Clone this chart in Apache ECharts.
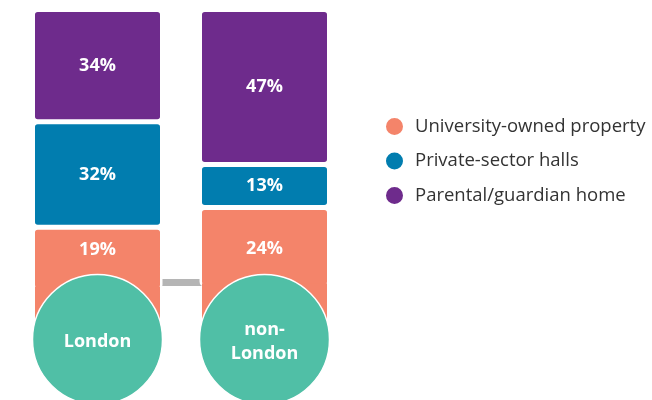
<!DOCTYPE html>
<html>
<head>
<meta charset="utf-8">
<script src="https://cdn.jsdelivr.net/npm/echarts@6/dist/echarts.min.js"></script>
<style>
  html, body { margin: 0; padding: 0; background: #fff; }
  #chart { width: 652px; height: 400px; }
</style>
</head>
<body>
<div id="chart"></div>
<script>
// Term-time accommodation by student location (% of students)
const categories = ['London', 'non-London'];
const circleLabels = ['London', 'non-\nLondon'];
const universityOwned = [19, 24];
const privateHalls = [32, 13];
const parentalHome = [34, 47];

const COLORS = {
  university: '#f4846a',
  privateHalls: '#017daf',
  parental: '#6e2b8c',
  circle: '#50bfa6',
  connector: '#b5b5b5'
};

// layout constants for the decorative parts
const CIRCLE_LEVEL = 100;      // axis level of the location badges
const CONNECTOR_LEVEL = 82.7;  // axis level of the grey link between columns
const orangeLabelDistance = [14, 32];

const FONT = '"Open Sans", "Noto Sans", sans-serif';
const BAR_WIDTH = 130;
const EDGE = 2.5;              // white edge drawn inside each segment -> 5px gaps

const segLabel = {
  show: true,
  position: 'inside',
  color: '#fff',
  fontFamily: FONT,
  fontWeight: 'bold',
  fontSize: 18,
  formatter: p => p.value + '%'
};

const segStyle = color => ({
  color: color,
  borderColor: '#fff',
  borderWidth: EDGE,
  borderRadius: 4
});

const universityData = universityOwned.map((v, i) => ({
  value: v,
  label: { position: 'insideTop', distance: orangeLabelDistance[i] }
}));

const totals = categories.map((c, i) => parentalHome[i] + privateHalls[i] + universityOwned[i]);

const chart = echarts.init(document.getElementById('chart'), null, { renderer: 'canvas' });

chart.setOption({
  animation: false,
  backgroundColor: '#fff',
  grid: { left: 14, width: 334, top: 9.5, height: 363 },
  xAxis: {
    type: 'category',
    data: categories,
    show: false
  },
  yAxis: {
    type: 'value',
    inverse: true,
    min: 0,
    max: 110,
    show: false
  },
  legend: {
    orient: 'vertical',
    left: 379,
    top: 111,
    icon: 'circle',
    itemWidth: 19,
    itemHeight: 19,
    itemGap: 13.5,
    data: ['University-owned property', 'Private-sector halls', 'Parental/guardian home'],
    textStyle: {
      fontFamily: FONT,
      fontSize: 18.5,
      color: '#333',
      padding: [0, 0, 0, 6]
    }
  },
  series: [
    {
      type: 'line',
      z: 1,
      data: categories.map(() => CONNECTOR_LEVEL),
      symbol: 'none',
      lineStyle: { color: COLORS.connector, width: 7 },
      silent: true
    },
    {
      name: 'Parental/guardian home',
      type: 'bar',
      stack: 'total',
      barWidth: BAR_WIDTH,
      data: parentalHome,
      itemStyle: segStyle(COLORS.parental),
      label: segLabel
    },
    {
      name: 'Private-sector halls',
      type: 'bar',
      stack: 'total',
      barWidth: BAR_WIDTH,
      data: privateHalls,
      itemStyle: segStyle(COLORS.privateHalls),
      label: segLabel
    },
    {
      name: 'University-owned property',
      type: 'bar',
      stack: 'total',
      barWidth: BAR_WIDTH,
      data: universityData,
      itemStyle: segStyle(COLORS.university),
      label: segLabel
    },
    {
      // orange column carries on down behind each badge
      type: 'custom',
      z: 3,
      silent: true,
      data: totals.map((t, i) => [i, t]),
      renderItem: (params, api) => {
        const top = api.coord([api.value(0), api.value(1)]);
        const bottom = api.coord([api.value(0), CIRCLE_LEVEL]);
        const w = BAR_WIDTH - 2 * EDGE;
        const y0 = top[1] - EDGE - 1;
        return {
          type: 'rect',
          shape: { x: top[0] - w / 2, y: y0, width: w, height: bottom[1] - y0 },
          style: { fill: COLORS.university }
        };
      }
    },
    {
      type: 'scatter',
      z: 5,
      symbolSize: 130,
      data: categories.map((c, i) => ({ value: [c, CIRCLE_LEVEL], name: circleLabels[i] })),
      itemStyle: { color: COLORS.circle, borderColor: '#fff', borderWidth: 1.5, opacity: 1 },
      label: {
        show: true,
        position: 'inside',
        formatter: p => p.name,
        color: '#fff',
        fontFamily: FONT,
        fontWeight: 'bold',
        fontSize: 18,
        lineHeight: 24,
        offset: [0, 2]
      },
      clip: false,
      silent: true
    }
  ]
});
</script>
</body>
</html>
